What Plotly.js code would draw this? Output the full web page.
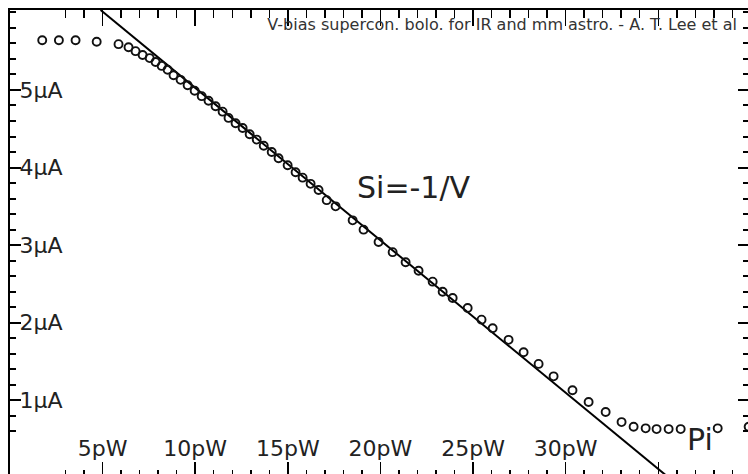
<!DOCTYPE html>
<html>
<head>
<meta charset="utf-8">
<script src="https://cdn.plot.ly/plotly-3.0.1.min.js"></script>
<style>
html,body{margin:0;padding:0;overflow:hidden;background:#fff;}
#chart{width:760px;height:478px;}
</style>
</head>
<body>
<div id="chart"></div>
<script>
// Measured points: electrical power P (pW) vs. current I (µA)
const powerPW = [1.74, 2.64, 3.54, 4.68, 5.86, 6.40, 6.78, 7.16, 7.54, 7.86, 8.19, 8.51, 8.83, 9.21, 9.59, 9.97,
  10.35, 10.72, 11.10, 11.48, 11.80, 12.18, 12.56, 12.94, 13.32, 13.70, 14.13, 14.50, 14.99, 15.42, 15.80,
  16.23, 16.66, 17.10, 17.58, 18.50, 19.09, 19.90, 20.66, 21.36, 22.06, 22.82, 23.36, 23.90, 24.71, 25.46,
  26.06, 26.92, 27.73, 28.54, 29.35, 30.37, 31.24, 32.16, 33.02, 33.67, 34.32, 34.91, 35.56, 36.21, 38.21, 39.88];
const currentUA = [5.64, 5.64, 5.64, 5.62, 5.59, 5.55, 5.50, 5.45, 5.41, 5.36, 5.31, 5.26, 5.19, 5.13, 5.06, 4.99,
  4.92, 4.86, 4.79, 4.72, 4.64, 4.57, 4.51, 4.43, 4.36, 4.28, 4.20, 4.12, 4.03, 3.94, 3.87,
  3.79, 3.71, 3.58, 3.50, 3.32, 3.20, 3.04, 2.91, 2.78, 2.67, 2.53, 2.40, 2.32, 2.19, 2.04,
  1.93, 1.78, 1.62, 1.47, 1.31, 1.13, 0.98, 0.85, 0.72, 0.66, 0.64, 0.63, 0.63, 0.63, 0.64, 0.66];
// Reference line Si = -1/V (end points)
const fitPW = [4.89, 36.0];
const fitUA = [6.03, -0.08];
// Tick labels
const xTickVals = [5, 10, 15, 20, 25, 30, 35];
const xTickText = ['5pW', '10pW', '15pW', '20pW', '25pW', '30pW', ''];
const yTickVals = [1, 2, 3, 4, 5];
const yTickText = ['1µA', '2µA', '3µA', '4µA', '5µA'];
const titleText = 'V-bias supercon. bolo. for IR and mm astro. - A. T. Lee et al';
const slopeLabel = 'Si=-1/V';
const xLabel = 'Pi';

const font = 'DejaVu Sans, Verdana, sans-serif';

const traces = [
  {x: fitPW, y: fitUA, mode: 'lines', line: {color: '#000', width: 2}, hoverinfo: 'skip', showlegend: false},
  {x: powerPW, y: currentUA, mode: 'markers', showlegend: false,
   marker: {symbol: 'circle-open', size: 8, color: '#111', line: {width: 1.9, color: '#111'}}}
];

const layout = {
  width: 760, height: 478,
  margin: {l: 10, r: 11, t: 10, b: 0},
  paper_bgcolor: '#fff', plot_bgcolor: '#fff',
  showlegend: false,
  title: {text: titleText, x: 0.9697, xanchor: 'right', xref: 'container', y: 0.950, yanchor: 'middle', yref: 'container',
          font: {family: font, size: 16, color: '#333'}},
  xaxis: {
    range: [0, 39.9], tickmode: 'array', tickvals: xTickVals, ticktext: xTickText,
    ticks: 'inside', ticklen: 16, tickwidth: 1.5, tickcolor: '#000',
    ticklabelposition: 'inside', ticklabelstandoff: 3,
    showline: true, linewidth: 2, linecolor: '#000', mirror: 'ticks',
    showgrid: false, zeroline: false,
    tickfont: {family: font, size: 22, color: '#222'},
    minor: {ticks: 'inside', ticklen: 8, tickmode: 'linear', tick0: 0, dtick: 1, tickwidth: 1.5, tickcolor: '#000', showgrid: false}
  },
  yaxis: {
    range: [0, 6.03], tickmode: 'array', tickvals: yTickVals, ticktext: yTickText,
    ticks: 'inside', ticklen: 11, tickwidth: 2, tickcolor: '#000',
    ticklabelposition: 'inside',
    showline: true, linewidth: 2, linecolor: '#000', mirror: 'ticks',
    showgrid: false, zeroline: false,
    tickfont: {family: font, size: 22, color: '#222'},
    minor: {ticks: 'inside', ticklen: 6, tickmode: 'linear', tick0: 0, dtick: 0.2, tickwidth: 2, tickcolor: '#000', showgrid: false}
  },
  annotations: [
    {x: 21.79, y: 3.74, xref: 'x', yref: 'y', text: slopeLabel, showarrow: false,
     font: {family: font, size: 30, color: '#222'}},
    {x: 37.28, y: 0.49, xref: 'x', yref: 'y', text: xLabel, showarrow: false,
     font: {family: font, size: 30, color: '#222'}}
  ]
};

Plotly.newPlot('chart', traces, layout, {displayModeBar: false, staticPlot: true});
</script>
</body>
</html>
